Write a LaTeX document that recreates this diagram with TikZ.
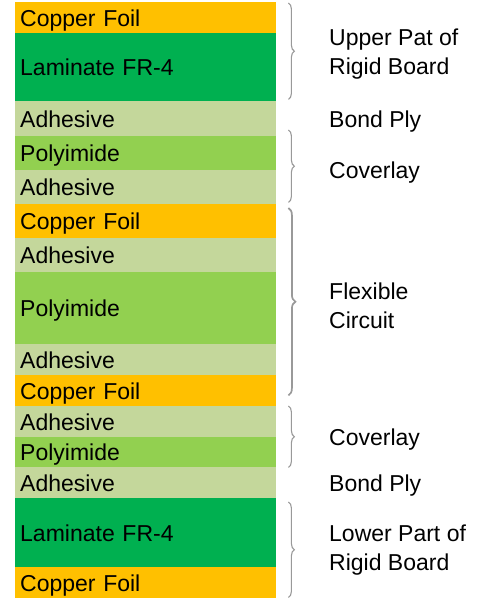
\documentclass[tikz,border=0pt]{standalone}
\usepackage{fontspec}
\setmainfont{Liberation Sans}
\usetikzlibrary{decorations.pathreplacing}
\definecolor{copper}{HTML}{FFC000}
\definecolor{laminate}{HTML}{00B050}
\definecolor{adhesive}{HTML}{C4D79B}
\definecolor{polyimide}{HTML}{92D050}

\begin{document}
\begin{tikzpicture}[x = 1pt, y = -1pt,
                        layer/.style = {anchor = north west, inner xsep = 5pt, inner ysep = 0pt,
                                        text width = 251pt, align = left, minimum height = #1,
                                        text height = 17pt, text depth = 0pt,
                                        font = \fontsize{23}{29}\selectfont},
                        part/.style = {anchor = west, align = left, inner sep = 0pt,
                                       text height = 17pt, text depth = 0pt,
                                       font = \fontsize{23}{29}\selectfont},
                        brace/.style = {draw = gray!80, line width = 1.1pt,
                                        decoration = {brace, amplitude = 6pt}, decorate}]
      \useasboundingbox (0, 0) rectangle (500, 612);
      \node [layer = 31pt, fill = copper] (cu1) at (15, 2) {Copper Foil};
      \node [layer = 68pt, fill = laminate] (fr1) at (15, 33) {Laminate FR-4};
      \node [layer = 35pt, fill = adhesive] (ad1) at (15, 101) {Adhesive};
      \node [layer = 34pt, fill = polyimide] (pi1) at (15, 136) {Polyimide};
      \node [layer = 34pt, fill = adhesive] (ad2) at (15, 170) {Adhesive};
      \node [layer = 34pt, fill = copper] (cu2) at (15, 204) {Copper Foil};
      \node [layer = 34pt, fill = adhesive] (ad3) at (15, 238) {Adhesive};
      \node [layer = 72pt, fill = polyimide] (pi2) at (15, 272) {Polyimide};
      \node [layer = 31pt, fill = adhesive] (ad4) at (15, 344) {Adhesive};
      \node [layer = 31pt, fill = copper] (cu3) at (15, 375) {Copper Foil};
      \node [layer = 31pt, fill = adhesive] (ad5) at (15, 406) {Adhesive};
      \node [layer = 30pt, fill = polyimide] (pi3) at (15, 437) {Polyimide};
      \node [layer = 31pt, fill = adhesive] (ad6) at (15, 467) {Adhesive};
      \node [layer = 69pt, fill = laminate] (fr2) at (15, 498) {Laminate FR-4};
      \node [layer = 31pt, fill = copper] (cu4) at (15, 567) {Copper Foil};
      \node [part] (upper) at (329, 66) {Upper Pat of\\Rigid Board};
      \node [part] (bond1) at (329, 119) {Bond Ply};
      \node [part] (cover1) at (329, 170) {Coverlay};
      \node [part] (flex) at (329, 320) {Flexible\\Circuit};
      \node [part] (cover2) at (329, 437) {Coverlay};
      \node [part] (bond2) at (329, 483) {Bond Ply};
      \node [part] (lower) at (329, 562) {Lower Part of\\Rigid Board};
      \draw [brace] ([xshift = 12pt, yshift = -1pt]cu1.north east) -- ([xshift = 12pt, yshift = 2pt]fr1.south east);
      \draw [brace] ([xshift = 12pt, yshift = 6pt]pi1.north east) -- ([xshift = 12pt, yshift = 2pt]ad2.south east);
      \draw [brace, line width = 1.7pt, decoration = {amplitude = 7pt}] ([xshift = 12pt, yshift = -4pt]cu2.north east) -- ([xshift = 12pt, yshift = 11pt]cu3.south east);
      \draw [brace] ([xshift = 12pt]ad5.north east) -- ([xshift = 12pt]pi3.south east);
      \draw [brace] ([xshift = 12pt, yshift = -4pt]fr2.north east) -- ([xshift = 12pt, yshift = 1pt]cu4.south east);
    \end{tikzpicture}
\end{document}
